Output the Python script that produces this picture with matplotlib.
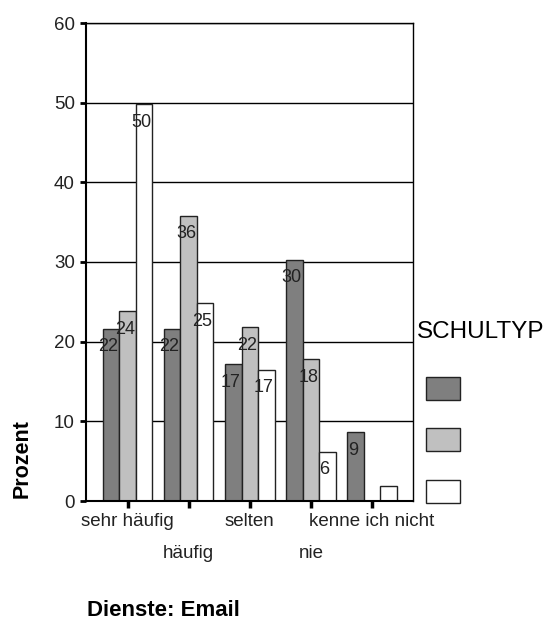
import numpy as np
import matplotlib
matplotlib.use("Agg")
import matplotlib.pyplot as plt
from matplotlib.patches import Rectangle

plt.rcParams['font.family'] = ['Liberation Sans', 'DejaVu Sans']

# data
categories = ['sehr häufig', 'häufig', 'selten', 'nie', 'kenne ich nicht']
serie1 = [21.6, 21.6, 17.2, 30.3, 8.6]
serie2 = [23.8, 35.8, 21.8, 17.8, 0.0]
serie3 = [49.8, 24.8, 16.5, 6.2, 1.9]
labels1 = ['22', '22', '17', '30', '9']
labels2 = ['24', '36', '22', '18', '']
labels3 = ['50', '25', '17', '6', '']
colors = ['#7f7f7f', '#c0c0c0', '#ffffff']

fig = plt.figure(figsize=(5.51, 6.2), dpi=100)
ax = fig.add_axes([86/551, 1-501/620, (413-86)/551, (501-23)/620])

x = np.arange(len(categories))
w = 0.27
series = [serie1, serie2, serie3]
labs = [labels1, labels2, labels3]
for i in range(3):
    bars = ax.bar(x + (i-1)*w, series[i], width=w, color=colors[i],
                  edgecolor='#222222', linewidth=1, zorder=3)
    for b, t in zip(bars, labs[i]):
        if t == '':
            continue
        ax.annotate(t, (b.get_x() + b.get_width()/2, b.get_height()),
                    xytext=(-2, -13), textcoords='offset points',
                    ha='center', va='center', fontsize=13, color='#222222',
                    zorder=4)

ax.set_xlim(-0.68, 4.67)
ax.set_ylim(0, 60)
ax.set_yticks(range(0, 61, 10))
ax.yaxis.grid(True, color='black', linewidth=1)
ax.set_axisbelow(True)
for s in ax.spines.values():
    s.set_color('black')
    s.set_linewidth(1)
ax.spines['left'].set_linewidth(1.5)
ax.spines['bottom'].set_linewidth(1.5)
ax.spines['bottom'].set_zorder(5)

ax.set_xticks(x)
ax.set_xticklabels(categories, fontsize=13.5, color='#222222')
ax.tick_params(axis='x', direction='out', length=5, width=2.5)
ax.tick_params(axis='y', direction='out', length=4, width=2, labelsize=13.5,
               labelcolor='#222222', pad=4)
for i, t in enumerate(ax.xaxis.get_major_ticks()):
    t.set_pad(4 if i % 2 == 0 else 27)

fig.text(22/551, 1-459/620, 'Prozent', rotation=90, ha='center', va='center',
         fontsize=15.5, fontweight='bold')
fig.text(87/551, 1-610/620, 'Dienste: Email', ha='left', va='center',
         fontsize=16, fontweight='bold')

# legend
fig.text(417/551, 1-332/620, 'SCHULTYP', ha='left', va='center', fontsize=17.5)
tops = [377, 428, 480]
for c, t in zip(colors, tops):
    fig.add_artist(Rectangle((426/551, 1-(t+23)/620), 34/551, 23/620,
                             transform=fig.transFigure, facecolor=c,
                             edgecolor='#222222', linewidth=1))

fig.savefig('out.png', dpi=100)
